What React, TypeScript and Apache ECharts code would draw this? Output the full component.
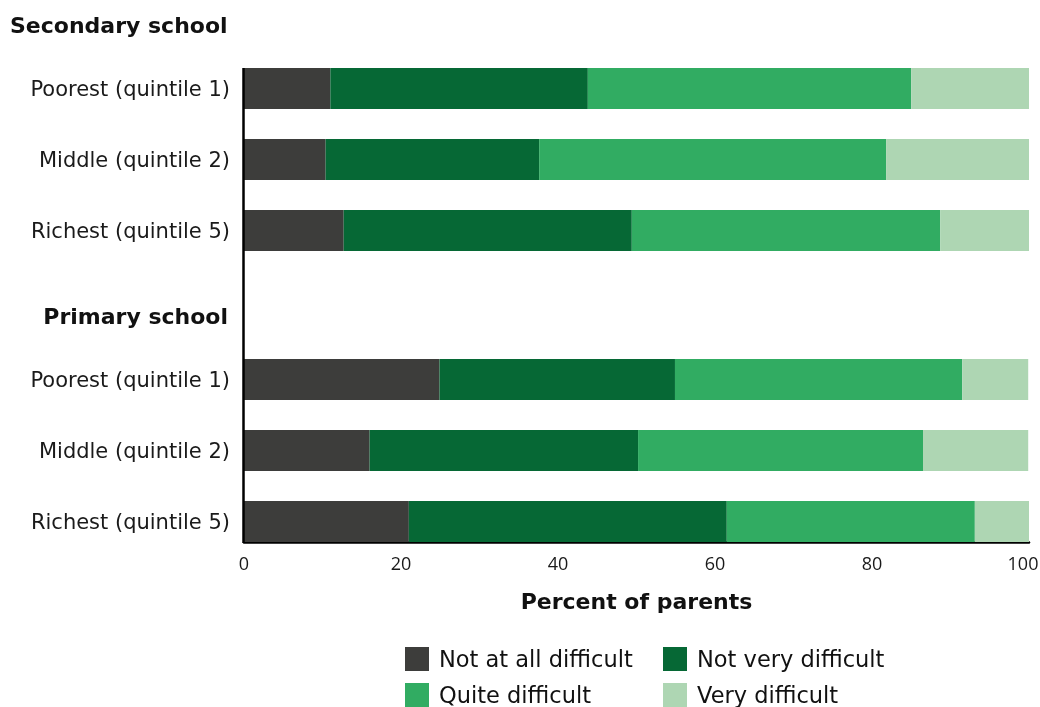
import React, { useEffect, useRef } from "react";
import * as echarts from "echarts";

const categories = ["Poorest (quintile 1)", "Middle (quintile 2)", "Richest (quintile 5)"];
const seriesNames = ["Not at all difficult", "Not very difficult", "Quite difficult", "Very difficult"];
const colors = ["#3d3d3b", "#066835", "#31ac62", "#aed6b3"];

const secNotAtAll = [11.0, 10.4, 12.7];
const secNotVery = [32.8, 27.2, 36.7];
const secQuite = [41.2, 44.2, 39.3];
const secVery = [15.0, 18.2, 11.3];

const priNotAtAll = [24.9, 16.0, 21.0];
const priNotVery = [30.0, 34.2, 40.5];
const priQuite = [36.6, 36.3, 31.6];
const priVery = [8.4, 13.4, 6.9];

const xTicksMin = 0;
const xTicksMax = 100;
const xTicksInterval = 20;

const FONT = "DejaVu Sans";
const TICK_FONT = "Open Sans";
const BAR_W = 41;

export default function App() {
  const ref = useRef<HTMLDivElement>(null);
  useEffect(() => {
    if (!ref.current) return;
    const chart = echarts.init(ref.current, null, { renderer: "svg" });
    const secData = [secNotAtAll, secNotVery, secQuite, secVery];
    const priData = [priNotAtAll, priNotVery, priQuite, priVery];
    const series: any[] = [];
    secData.forEach((d, i) => {
      series.push({
        type: "bar", name: seriesNames[i], stack: "sec", xAxisIndex: 0, yAxisIndex: 0,
        data: d, barWidth: BAR_W, itemStyle: { color: colors[i] },
      });
    });
    priData.forEach((d, i) => {
      series.push({
        type: "bar", name: seriesNames[i], stack: "pri", xAxisIndex: 1, yAxisIndex: 1,
        data: d, barWidth: BAR_W, itemStyle: { color: colors[i] },
      });
    });
    const legendPos = [
      { left: 405, top: 647 },
      { left: 663, top: 647 },
      { left: 405, top: 683 },
      { left: 663, top: 683 },
    ];
    const legends = seriesNames.map((n, i) => ({
      data: [n], left: legendPos[i].left, top: legendPos[i].top, icon: "rect", padding: 0,
      itemWidth: 24, itemHeight: 24, selectedMode: false,
      textStyle: { fontFamily: FONT, fontSize: 22.5, color: "#111", padding: [0, 0, 0, 5] },
    }));
    const yAxisCommon = {
      type: "category", inverse: true, data: categories,
      axisLine: { show: false }, axisTick: { show: false },
      axisLabel: { fontFamily: FONT, fontSize: 21, color: "#1a1a1a", margin: 14 },
      splitLine: { show: false },
    };
    const tickStyle = { fontFamily: TICK_FONT, fontSize: 18, color: "#1a1a1a" };
    chart.setOption({
      animation: false,
      textStyle: { fontFamily: FONT },
      title: [
        { text: "Secondary school", left: 10, top: 14, padding: 0, textStyle: { fontFamily: FONT, fontSize: 22, fontWeight: "bold", color: "#111" } },
        { text: "Primary school", right: 812, top: 305, padding: 0, textStyle: { fontFamily: FONT, fontSize: 22, fontWeight: "bold", color: "#111" } },
      ],
      legend: legends,
      grid: [
        { left: 244, right: 11, top: 53, height: 213, outerBoundsMode: "none", containLabel: false },
        { left: 244, right: 11, top: 344, height: 213, outerBoundsMode: "none", containLabel: false },
      ],
      xAxis: [
        { type: "value", gridIndex: 0, min: xTicksMin, max: xTicksMax, interval: xTicksInterval, show: false },
        {
          type: "value", gridIndex: 1, min: xTicksMin, max: xTicksMax, interval: xTicksInterval,
          offset: -15,
          axisLine: { show: true, lineStyle: { color: "#000", width: 2.5 } },
          axisTick: { show: false },
          splitLine: { show: false },
          axisLabel: {
            ...tickStyle, margin: 12,
            formatter: (v: number) => (v === xTicksMax ? "{last|" + v + "}" : String(v)),
            rich: { last: { ...tickStyle, padding: [0, 12, 0, 0] } },
          },
          name: "Percent of parents", nameLocation: "middle", nameGap: 48,
          nameTextStyle: { fontFamily: FONT, fontSize: 22, fontWeight: "bold", color: "#111" },
        },
      ],
      yAxis: [
        { ...yAxisCommon, gridIndex: 0 },
        { ...yAxisCommon, gridIndex: 1 },
      ],
      series,
    });
    const x0 = chart.convertToPixel({ xAxisIndex: 1 }, 0) as number;
    const yTop = (chart.convertToPixel({ yAxisIndex: 0 }, 0) as number) - BAR_W / 2;
    const yBot = (chart.convertToPixel({ yAxisIndex: 1 }, 2) as number) + BAR_W / 2;
    chart.setOption({
      graphic: [
        { type: "line", shape: { x1: x0 - 0.5, y1: yTop, x2: x0 - 0.5, y2: yBot + 1 }, style: { stroke: "#000", lineWidth: 2.5 }, z: 10 },
      ],
    });
    return () => chart.dispose();
  }, []);
  return <div ref={ref} style={{ position: "fixed", left: 0, top: 0, width: 1040, height: 707 }} />;
}
